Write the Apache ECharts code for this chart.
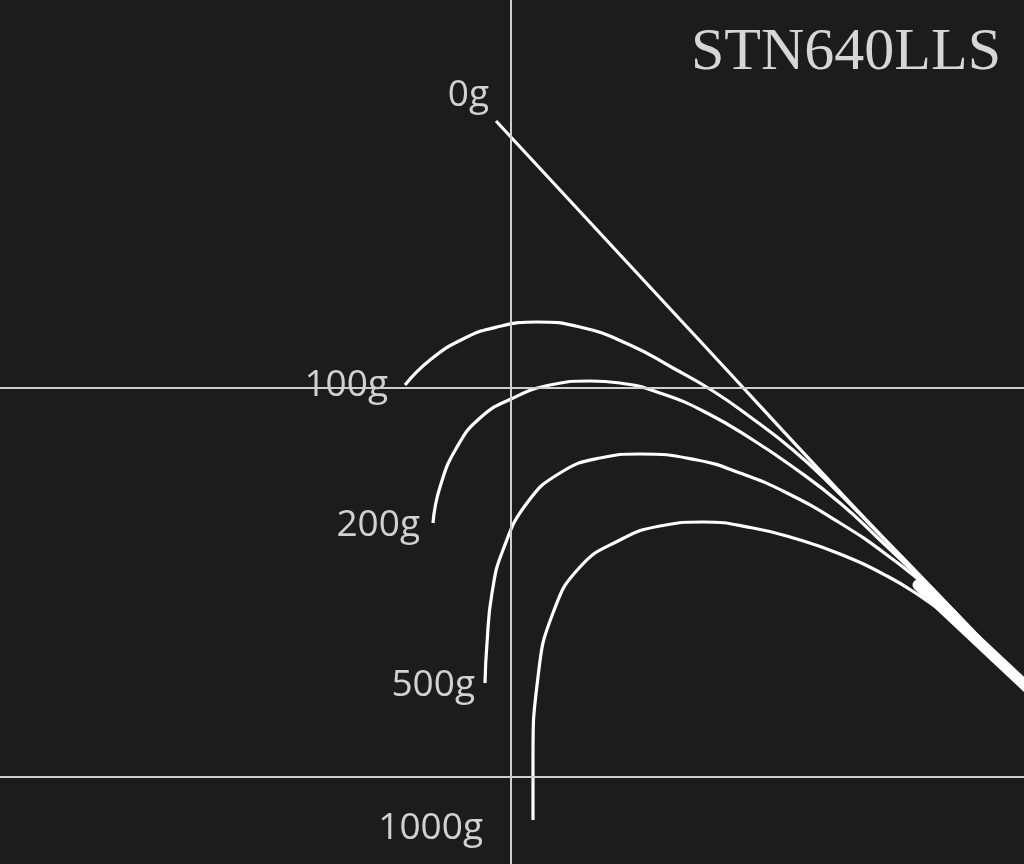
<!DOCTYPE html>
<html>
<head>
<meta charset="utf-8">
<title>STN640LLS</title>
<script src="https://cdn.jsdelivr.net/npm/echarts@6/dist/echarts.min.js"></script>
<style>
	html, body { margin: 0; padding: 0; background: #1c1c1c; }
	#bendChart { width: 1024px; height: 864px; }
</style>
</head>
<body>
<div id="bendChart"></div>
<script>
// 荷重ごとの曲がり (x, y) ・ 画面座標系の値
var loadNames = ['0g', '100g', '200g', '500g', '1000g'];
var curve0g = [[496, 121], [700, 341], [840, 492], [930, 586], [1030, 690]];
var curve100g = [[405, 385], [430, 360], [463, 339], [497, 327], [537, 322], [580, 327], [630, 345], [673, 368], [713, 391], [753, 419], [793, 450], [830, 484], [880, 535], [930, 586], [1030, 690]];
var curve200g = [[433, 523], [440, 487], [457, 447], [480, 418], [511, 399], [550, 385], [590, 381], [620, 383], [663, 394], [707, 413], [753, 440], [793, 467], [840, 503], [880, 540], [930, 588], [1030, 690]];
var curve500g = [[485, 683], [487, 643], [492, 593], [503, 550], [527, 503], [560, 473], [600, 458], [640, 454], [697, 460], [740, 473], [787, 493], [840, 523], [887, 555], [930, 590], [1030, 690]];
var curve1000g = [[533, 820], [533, 760], [538, 677], [553, 613], [580, 567], [620, 540], [660, 526], [703, 522], [753, 528], [797, 539], [840, 554], [887, 576], [920, 596], [953, 620], [985, 647], [1030, 690]];
var rodButt = [[918, 585], [1030, 690]];
var gridX = [511];
var gridY = [388, 777];
var modelName = 'STN640LLS';

var bend = {
	curves : [curve0g, curve100g, curve200g, curve500g, curve1000g],
	// ラベルの位置調整
	labelOffset : [[-2, -26], [-12, 0], [-8, 2], [-5, 2], [-45, 8]],

	labelData : function (){
		var data = [];
		for (var i = 0; i < bend.curves.length; i++) {
			data.push({
				name : loadNames[i],
				value : bend.curves[i][0],
				label : {offset : bend.labelOffset[i]}
			});
		}
		return data;
	},

	show : function (){
		var myChart = echarts.init(document.getElementById('bendChart'), null, {renderer : 'canvas'});
		var series = [];
		var marks = [];
		for (var g = 0; g < gridX.length; g++) marks.push({xAxis : gridX[g]});
		for (var h = 0; h < gridY.length; h++) marks.push({yAxis : gridY[h]});
		series.push({
			type : 'line',
			name : 'grid',
			data : [],
			silent : true,
			markLine : {
				silent : true,
				symbol : 'none',
				label : {show : false},
				lineStyle : {color : '#cfcfcf', width : 2, type : 'solid'},
				data : marks
			}
		});
		for (var k = 0; k < bend.curves.length; k++) {
			series.push({
				type : 'line',
				name : loadNames[k],
				data : bend.curves[k],
				smooth : 0.5,
				showSymbol : false,
				symbol : 'none',
				lineStyle : {color : '#ffffff', width : 3.2},
				z : 3
			});
		}
		// 元竿側の太い部分
		series.push({
			type : 'line',
			name : 'butt',
			data : rodButt,
			showSymbol : false,
			symbol : 'none',
			lineStyle : {color : '#ffffff', width : 11, cap : 'round'},
			z : 3
		});
		series.push({
			type : 'scatter',
			name : 'labels',
			symbolSize : 0,
			data : bend.labelData(),
			label : {
				show : true,
				position : 'left',
				distance : 5,
				formatter : '{b}',
				color : '#ffffff',
				fontFamily : 'Open Sans',
				fontSize : 37
			},
			z : 4
		});
		var options = {
			backgroundColor : '#1c1c1c',
			animation : false,
			title : {
				text : modelName,
				right : 18,
				top : 18,
				textStyle : {
					color : '#d6d6d6',
					fontFamily : 'Liberation Serif',
					fontWeight : 'normal',
					fontSize : 60
				}
			},
			grid : {left : 0, right : 0, top : 0, bottom : 0},
			xAxis : {type : 'value', min : 0, max : 1024, show : false},
			yAxis : {type : 'value', min : 0, max : 864, inverse : true, show : false},
			series : series
		};
		myChart.setOption(options);
	}
};

bend.show();
</script>
</body>
</html>
